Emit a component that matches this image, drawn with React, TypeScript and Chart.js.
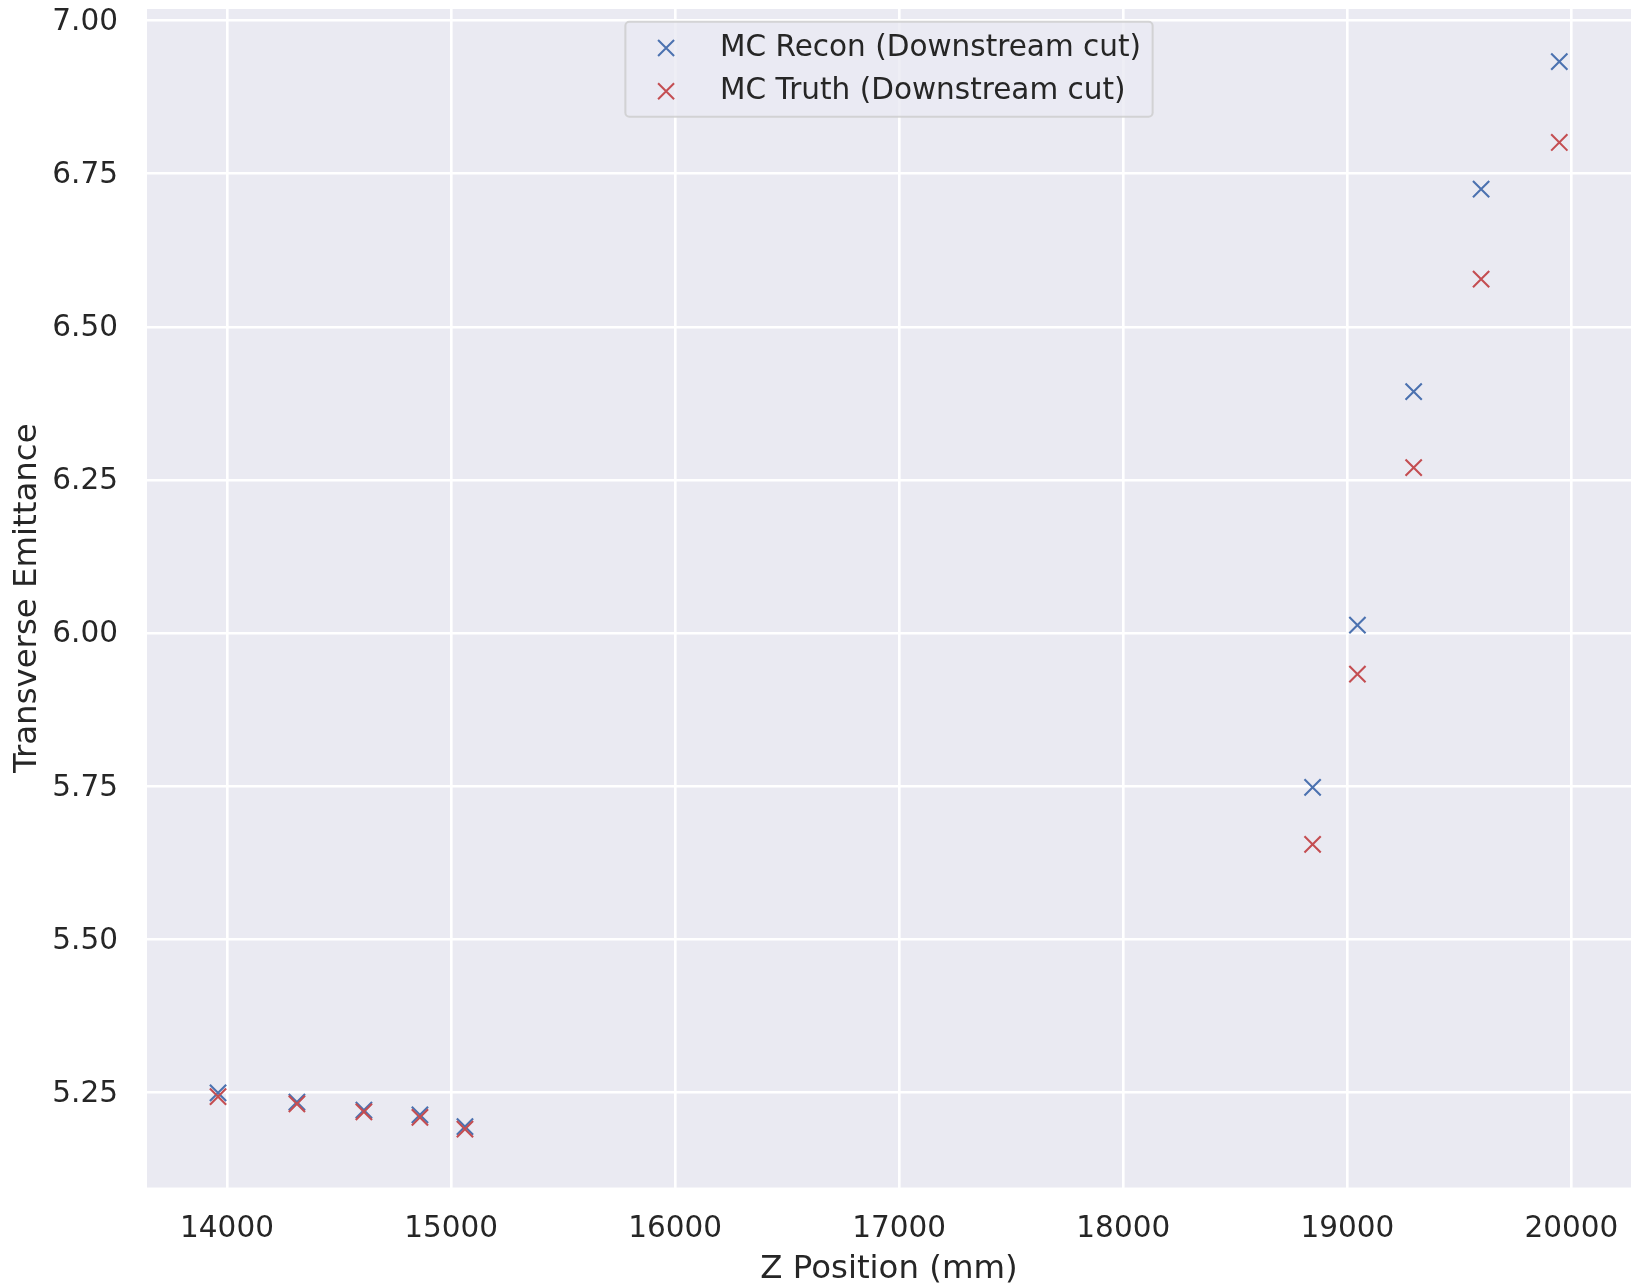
import React, { useEffect, useRef } from "react";
import { Chart, registerables } from "chart.js";

Chart.register(...registerables);

// ---- data ----
const zPositions = [13960, 14312, 14611, 14861, 15062, 18845, 19045, 19296, 19597, 19946];
const reconEmittance = [5.249, 5.234, 5.221, 5.213, 5.194, 5.748, 6.013, 6.394, 6.725, 6.933];
const truthEmittance = [5.243, 5.231, 5.218, 5.209, 5.19, 5.655, 5.933, 6.27, 6.578, 6.801];
const seriesLabels = ["MC Recon (Downstream cut)", "MC Truth (Downstream cut)"];
const xTickValues = [14000, 15000, 16000, 17000, 18000, 19000, 20000];
const yTickValues = [5.25, 5.5, 5.75, 6.0, 6.25, 6.5, 6.75, 7.0];
const xRange = [13643, 20266];
const yRange = [5.0945, 7.019];
const xTitle = "Z Position (mm)";
const yTitle = "Transverse Emittance";

const W = 1633;
const H = 1286;
const FONT = '"DejaVu Sans", "Liberation Sans", sans-serif';
const TEXT = "#262626";
const BLUE = "#4C72B0";
const RED = "#C44E52";
const BG = "#EAEAF2";
const TICK_SIZE = 29.5;
const TITLE_SIZE = 32.4;

const bgPlugin = {
  id: "axesBg",
  beforeDraw(chart: any) {
    const { ctx, chartArea: ca } = chart;
    ctx.save();
    ctx.fillStyle = BG;
    ctx.fillRect(ca.left, ca.top, ca.right - ca.left, ca.bottom - ca.top);
    ctx.restore();
  },
};

const legendPlugin = {
  id: "boxLegend",
  afterDraw(chart: any) {
    const { ctx, chartArea: ca } = chart;
    const ds = chart.data.datasets;
    ctx.save();
    ctx.font = `${TICK_SIZE}px ${FONT}`;
    const widths = ds.map((d: any) => ctx.measureText(d.label).width);
    const boxW = 94.7 + Math.max(...widths) + 11.6;
    const boxH = 95;
    const left = (ca.left + ca.right) / 2 - boxW / 2;
    const top = ca.top + 12.7;
    const r = 4;
    ctx.beginPath();
    ctx.moveTo(left + r, top);
    ctx.lineTo(left + boxW - r, top);
    ctx.arcTo(left + boxW, top, left + boxW, top + r, r);
    ctx.lineTo(left + boxW, top + boxH - r);
    ctx.arcTo(left + boxW, top + boxH, left + boxW - r, top + boxH, r);
    ctx.lineTo(left + r, top + boxH);
    ctx.arcTo(left, top + boxH, left, top + boxH - r, r);
    ctx.lineTo(left, top + r);
    ctx.arcTo(left, top, left + r, top, r);
    ctx.closePath();
    ctx.fillStyle = "rgba(234,234,242,0.8)";
    ctx.fill();
    ctx.strokeStyle = "rgba(204,204,204,0.8)";
    ctx.lineWidth = 2;
    ctx.stroke();

    ds.forEach((d: any, i: number) => {
      const my = top + 26.3 + i * 43.3;
      const mx = left + 40.7;
      const h = 8;
      ctx.beginPath();
      ctx.moveTo(mx - h, my - h);
      ctx.lineTo(mx + h, my + h);
      ctx.moveTo(mx - h, my + h);
      ctx.lineTo(mx + h, my - h);
      ctx.strokeStyle = d.borderColor;
      ctx.lineWidth = 2;
      ctx.stroke();
      ctx.fillStyle = TEXT;
      ctx.textAlign = "left";
      ctx.textBaseline = "middle";
      ctx.fillText(d.label, left + 94.7, top + 26.3 + i * 43.3);
    });
    ctx.restore();
  },
};

export default function App() {
  const ref = useRef<HTMLCanvasElement | null>(null);

  useEffect(() => {
    if (!ref.current) return;
    const mk = (vals: number[]) => zPositions.map((x, i) => ({ x, y: vals[i] }));
    const chart = new Chart(ref.current, {
      type: "scatter",
      data: {
        datasets: [
          {
            label: seriesLabels[0],
            data: mk(reconEmittance),
            borderColor: BLUE,
            backgroundColor: BLUE,
            pointStyle: "crossRot",
            pointRadius: 11.5,
            pointBorderWidth: 2.1,
            order: 2,
          },
          {
            label: seriesLabels[1],
            data: mk(truthEmittance),
            borderColor: RED,
            backgroundColor: RED,
            pointStyle: "crossRot",
            pointRadius: 11.5,
            pointBorderWidth: 2.1,
            order: 1,
          },
        ],
      },
      options: {
        responsive: false,
        animation: false,
        devicePixelRatio: 1,
        layout: { autoPadding: false, padding: { top: 9, right: 2, left: 0, bottom: 0 } },
        plugins: {
          legend: { display: false },
          tooltip: { enabled: false },
        },
        scales: {
          x: {
            type: "linear",
            min: xRange[0],
            max: xRange[1],
            afterBuildTicks: (s: any) => {
              s.ticks = xTickValues.map((v) => ({ value: v }));
            },
            afterFit: (s: any) => {
              s.height = 98.5;
              s.paddingLeft = 0;
              s.paddingRight = 0;
            },
            grid: {
              color: "#FFFFFF",
              lineWidth: 2.6,
              drawTicks: true,
              tickLength: 24,
              tickColor: "rgba(0,0,0,0)",
            },
            border: { display: false },
            ticks: {
              padding: 0,
              color: TEXT,
              font: { family: FONT, size: TICK_SIZE, lineHeight: 1.2 },
              maxRotation: 0,
              autoSkip: false,
              callback: (v: any) => String(v),
            },
            title: {
              display: true,
              text: xTitle,
              color: TEXT,
              font: { family: FONT, size: TITLE_SIZE, lineHeight: 1.0 },
              padding: { top: 0, bottom: 0 },
            },
          },
          y: {
            type: "linear",
            min: yRange[0],
            max: yRange[1],
            afterBuildTicks: (s: any) => {
              s.ticks = yTickValues.map((v) => ({ value: v }));
            },
            afterFit: (s: any) => {
              s.width = 147;
              s.paddingTop = 0;
              s.paddingBottom = 0;
            },
            grid: {
              color: "#FFFFFF",
              lineWidth: 2.6,
              drawTicks: true,
              tickLength: 29,
              tickColor: "rgba(0,0,0,0)",
            },
            border: { display: false },
            ticks: {
              padding: 0,
              labelOffset: 1.8,
              color: TEXT,
              font: { family: FONT, size: TICK_SIZE, lineHeight: 1.2 },
              autoSkip: false,
              callback: (v: any) => Number(v).toFixed(2),
            },
            title: {
              display: true,
              text: yTitle,
              color: TEXT,
              font: { family: FONT, size: TITLE_SIZE, lineHeight: 1.1 },
              padding: { top: 10, bottom: 0 },
            },
          },
        },
      },
      plugins: [bgPlugin, legendPlugin],
    });
    return () => chart.destroy();
  }, []);

  return (
    <div style={{ position: "fixed", left: 0, top: 0, width: W, height: H, background: "#fff" }}>
      <canvas ref={ref} width={W} height={H} style={{ display: "block", width: W, height: H }} />
    </div>
  );
}
